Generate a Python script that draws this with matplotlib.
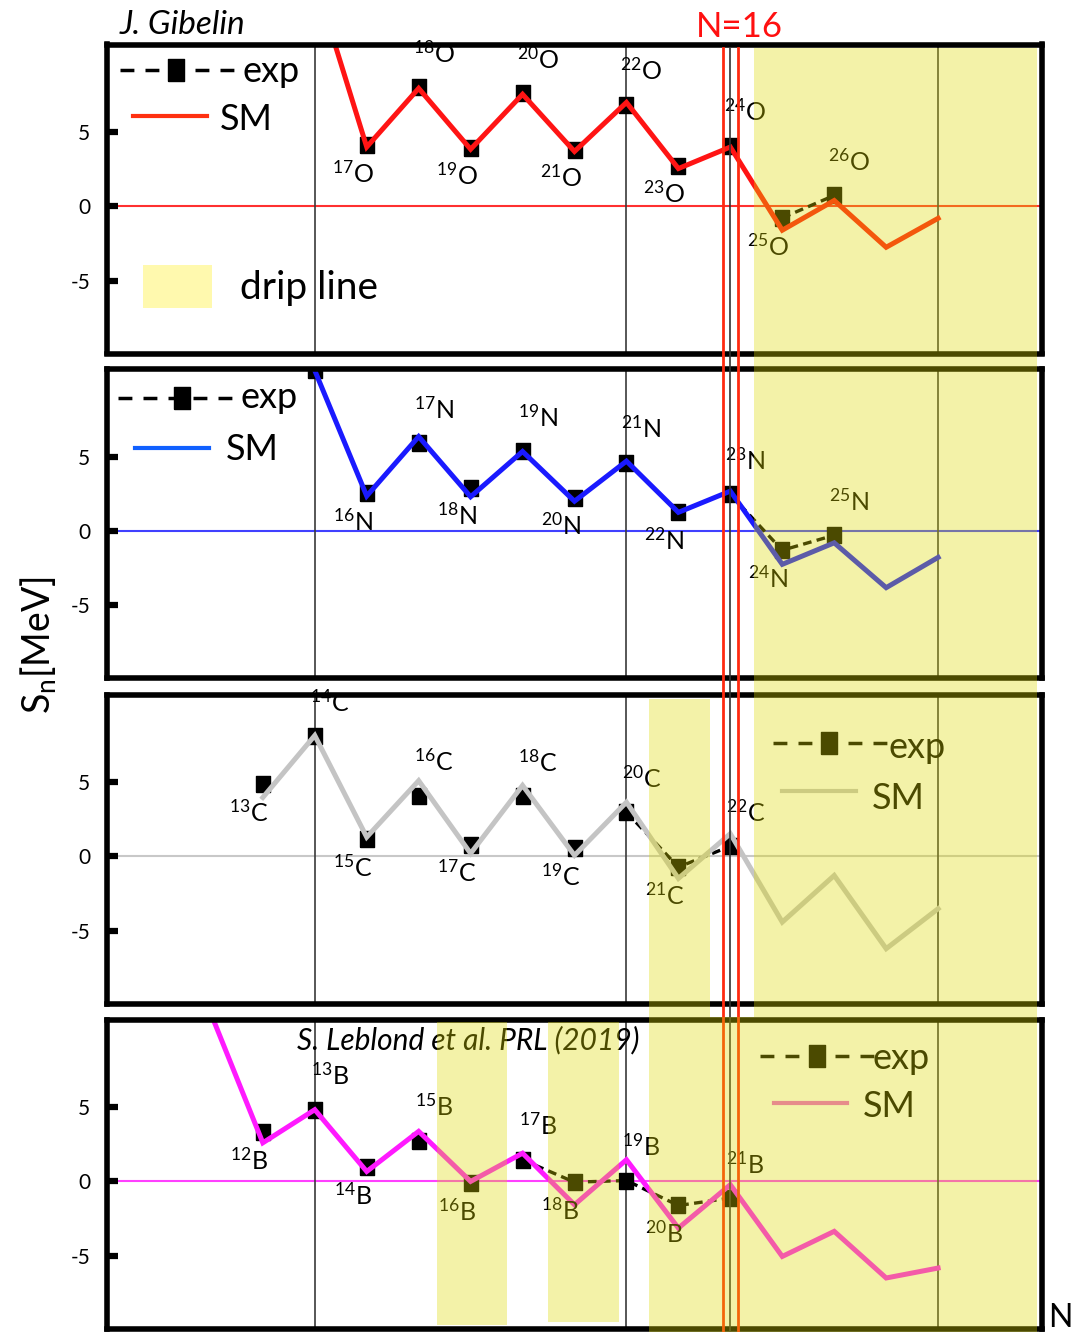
import matplotlib.pyplot as plt
from matplotlib.lines import Line2D
from matplotlib.patches import Rectangle

plt.rcParams['font.family'] = ['Lato', 'DejaVu Sans']
plt.rcParams['mathtext.default'] = 'regular'
plt.rcParams['axes.unicode_minus'] = False

# --- Data: one-neutron separation energies S_n (MeV) vs neutron number N ---
# Oxygen (Z=8)
N_SM_O = [8, 9, 10, 11, 12, 13, 14, 15, 16, 17, 18, 19, 20]
SN_SM_O = [15.3, 4.0, 7.95, 3.85, 7.55, 3.7, 7.0, 2.55, 4.0, -1.6, 0.4, -2.75, -0.8]
N_EXP_O = [9, 10, 11, 12, 13, 14, 15, 16, 17, 18]
SN_EXP_O = [4.14, 8.04, 3.96, 7.61, 3.81, 6.85, 2.74, 4.1, -0.77, 0.74]

# Nitrogen (Z=7)
N_SM_N = [8, 9, 10, 11, 12, 13, 14, 15, 16, 17, 18, 19, 20]
SN_SM_N = [10.8, 2.35, 6.35, 2.3, 5.35, 2.0, 4.7, 1.25, 2.68, -2.25, -0.8, -3.82, -1.78]
N_EXP_N = [8, 9, 10, 11, 12, 13, 14, 15, 16, 17, 18]
SN_EXP_N = [10.8, 2.52, 5.9, 2.9, 5.35, 2.25, 4.6, 1.28, 2.46, -1.3, -0.29]

# Carbon (Z=6)
N_SM_C = [7, 8, 9, 10, 11, 12, 13, 14, 15, 16, 17, 18, 19, 20]
SN_SM_C = [3.97, 8.14, 1.3, 5.1, 0.2, 4.78, 0.07, 3.65, -1.48, 1.53, -4.42, -1.28, -6.21, -3.52]
N_EXP_C = [7, 8, 9, 10, 11, 12, 13, 14, 15, 16]
SN_EXP_C = [4.85, 8.09, 1.14, 4.1, 0.8, 4.05, 0.54, 2.98, -0.72, 0.69]

# Boron (Z=5)
N_SM_B = [6, 7, 8, 9, 10, 11, 12, 13, 14, 15, 16, 17, 18, 19, 20]
SN_SM_B = [11.3, 2.6, 4.83, 0.67, 3.37, 0.0, 1.9, -1.57, 1.46, -3.14, -0.22, -5.05, -3.36, -6.5, -5.83]
N_EXP_B = [7, 8, 9, 10, 11, 12, 13, 14, 15, 16]
SN_EXP_B = [3.31, 4.83, 0.96, 2.75, -0.1, 1.46, -0.05, 0.06, -1.62, -1.12]

Y_TICKS = [-5, 0, 5]
SHELL_LINES = [8, 14, 20]          # thin vertical guides
N16_LINES = [15.85, 16.14]         # red N=16 markers
N16_CENTER = 16

# --- Layout (pixels) ---
FIG_W, FIG_H = 1077, 1332
AX_LEFT, AX_WIDTH, AX_HEIGHT = 107, 935, 309
XLIM = (4, 22)
YLIM = (-9.9, 10.9)

PANELS = [
    dict(sym='O', Z=8, sm_n=N_SM_O, sm=SN_SM_O, exp_n=N_EXP_O, exp=SN_EXP_O,
         color='#ff1414', zero='#ff3030', dash_from=17, first_label=9, top=44.5),
    dict(sym='N', Z=7, sm_n=N_SM_N, sm=SN_SM_N, exp_n=N_EXP_N, exp=SN_EXP_N,
         color='#1a1aff', zero='#4040ff', dash_from=16, first_label=9, top=369),
    dict(sym='C', Z=6, sm_n=N_SM_C, sm=SN_SM_C, exp_n=N_EXP_C, exp=SN_EXP_C,
         color='#c4c4c4', zero='#c8c8c8', dash_from=14, first_label=7, top=694.5),
    dict(sym='B', Z=5, sm_n=N_SM_B, sm=SN_SM_B, exp_n=N_EXP_B, exp=SN_EXP_B,
         color='#ff1aff', zero='#ff40ff', dash_from=12, first_label=7, top=1019.5),
]

# legend pieces per panel: exp handle (x0, x1, y, marker x, text x, text baseline),
# SM handle (x0, x1, y, text x, text baseline, colour)
LEGENDS = [
    ((120, 237, 70, 176, 243, 82), (133, 207, 116, 220, 130, '#ff3010')),
    ((118, 235, 398, 182, 240, 408), (135, 209, 448, 226, 460, '#1060ff')),
    ((773, 890, 743, 829, 888, 758), (782, 856, 791, 872, 809, '#c4c4c4')),
    ((760, 877, 1056, 817, 873, 1069), (774, 847, 1103, 863, 1117, '#eb64d4')),
]

# shaded drip-line regions (x0, y0, x1, y1) in pixels
DRIP_BANDS = [(754, 48, 1037, 1332), (649, 699, 710, 1332), (710, 1017, 754, 1332),
              (437, 1022, 507, 1325), (548, 1022, 619, 1322)]

DATA_MARKER = [(-0.39, -0.5), (0.39, -0.5), (0.39, 0.5), (-0.39, 0.5), (-0.39, -0.5)]
LEG_MARKER = [(-0.33, -0.5), (0.33, -0.5), (0.33, 0.5), (-0.33, 0.5), (-0.33, -0.5)]


def fx(x):
    return x / FIG_W


def fy(y):
    return 1 - y / FIG_H


fig = plt.figure(figsize=(FIG_W / 100, FIG_H / 100), dpi=100)

axes = []
for p in PANELS:
    ax = fig.add_axes([fx(AX_LEFT), fy(p['top'] + AX_HEIGHT), AX_WIDTH / FIG_W, AX_HEIGHT / FIG_H])
    ax.set_xlim(*XLIM)
    ax.set_ylim(*YLIM)
    ax.set_xticks([])
    ax.set_yticks(Y_TICKS)
    ax.tick_params(axis='y', direction='in', length=8, width=4.5, pad=12, labelsize=15)
    for s in ax.spines.values():
        s.set_linewidth(4)

    ax.axhline(0, color=p['zero'], lw=1.5, zorder=1)
    for n in SHELL_LINES:
        ax.axvline(n, color='#3a3a3a', lw=1.2, zorder=1)

    # experimental points, dashed only where unbound part diverges from SM
    dn = [n for n in p['exp_n'] if n >= p['dash_from']]
    dv = [v for n, v in zip(p['exp_n'], p['exp']) if n >= p['dash_from']]
    ax.plot(dn, dv, color='black', lw=2.4, dashes=(2.6, 1.6), zorder=2)
    ax.plot(p['exp_n'], p['exp'], ls='none', marker=DATA_MARKER, ms=12.2,
            color='black', zorder=2.1)

    ax.plot(p['sm_n'], p['sm'], color=p['color'], lw=3.6, solid_joinstyle='miter', zorder=2.3)

    for n, v in zip(p['exp_n'], p['exp']):
        if n < p['first_label']:
            continue
        off = (-14, -28) if n % 2 else (15, 34)
        ax.annotate(f"$^{{{n + p['Z']}}}${p['sym']}", (n, v), xytext=off,
                    textcoords='offset pixels', ha='center', va='center',
                    fontsize=18, zorder=2.4, annotation_clip=False)
    axes.append(ax)

# legends
for (ex0, ex1, ey, mx, etx, eb), (sx0, sx1, sy, stx, sb, scol) in LEGENDS:
    fig.add_artist(Line2D([fx(ex0), fx(ex1)], [fy(ey), fy(ey)], transform=fig.transFigure,
                          color='black', lw=2.5, dashes=(4, 3.2), zorder=3))
    fig.add_artist(Line2D([fx(mx)], [fy(ey)], transform=fig.transFigure, ls='none',
                          marker=LEG_MARKER, ms=16.5, color='black', zorder=3))
    fig.text(fx(etx), fy(eb), 'exp', fontsize=26, va='baseline', zorder=3)
    fig.add_artist(Line2D([fx(sx0), fx(sx1)], [fy(sy), fy(sy)], transform=fig.transFigure,
                          color=scol, lw=3, zorder=3))
    fig.text(fx(stx), fy(sb), 'SM', fontsize=26, va='baseline', zorder=3)

# drip line key
fig.add_artist(Rectangle((fx(143), fy(308)), (212 - 143) / FIG_W, (308 - 265) / FIG_H,
                         transform=fig.transFigure, color='#fff9ae', lw=0, zorder=3))
fig.text(fx(240), fy(299), 'drip line', fontsize=28, va='baseline', zorder=3)

# N=16 markers across all panels
to_fig = fig.transFigure.inverted()
for n, col, lw in [(N16_LINES[0], '#ff2a10', 2), (N16_CENTER, '#333333', 1.2), (N16_LINES[1], '#ff2a10', 2)]:
    xd = axes[0].transData.transform((n, 0))[0]
    xf = to_fig.transform((xd, 0))[0]
    fig.add_artist(Line2D([xf, xf], [fy(48), fy(FIG_H)], transform=fig.transFigure,
                          color=col, lw=lw, zorder=5))

# translucent drip-line shading on top of everything
for x0, y0, x1, y1 in DRIP_BANDS:
    fig.add_artist(Rectangle((fx(x0), fy(y1)), (x1 - x0) / FIG_W, (y1 - y0) / FIG_H,
                             transform=fig.transFigure, color='#deda00', alpha=0.34,
                             lw=0, zorder=10))

fig.text(fx(120), fy(34), 'J. Gibelin', fontsize=24, style='italic', va='baseline')
fig.text(fx(696), fy(37), 'N=16', fontsize=25, color='#ff1010', va='baseline')
fig.text(fx(297), fy(1049), 'S. Leblond et al. PRL (2019)', fontsize=21.5,
         style='italic', va='baseline', zorder=3)
fig.text(fx(1048), fy(1327), 'N', fontsize=23, va='baseline')
fig.text(fx(38), fy(645), 'S$_n$[MeV]', fontsize=27, rotation=90, ha='center', va='center')

fig.savefig('out.png', dpi=100)
